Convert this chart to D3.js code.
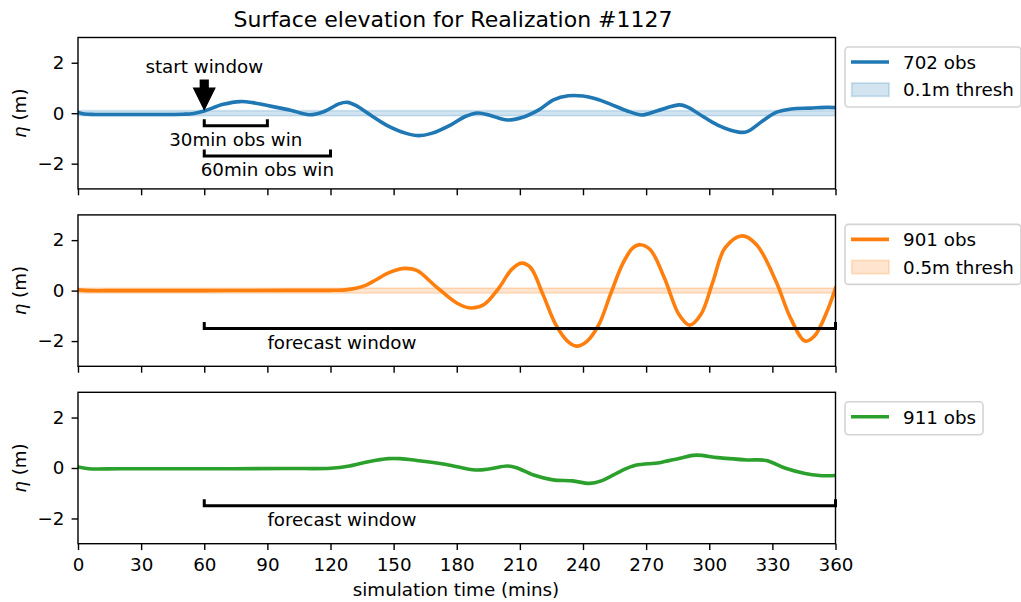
<!DOCTYPE html>
<html>
<head>
<meta charset="utf-8">
<script src="https://cdn.jsdelivr.net/npm/d3@7"></script>
<style>
  body { margin: 0; background: #fff; }
  svg text { font-family: "DejaVu Sans", sans-serif; fill: #000; }
</style>
</head>
<body>
<svg id="chart" width="1021" height="602"></svg>
<script>
// Gauge 702 surface elevation (m) vs simulation time (mins)
const times702 = [0, 3, 8, 20, 35, 50, 55, 60, 69, 77, 83, 92, 101, 110, 117, 124, 128, 132, 140, 147, 156, 162, 168, 177, 184, 190, 196, 204, 211, 219, 226, 233, 240, 246, 253, 261, 268, 275, 286, 290, 297, 304, 314, 318, 325, 332, 339, 348, 356, 360];
const eta702 = [0.03, -0.03, -0.05, -0.05, -0.05, -0.04, -0.01, 0.09, 0.35, 0.46, 0.42, 0.27, 0.12, -0.06, 0.07, 0.37, 0.43, 0.31, -0.13, -0.49, -0.8, -0.89, -0.8, -0.47, -0.13, 0.01, -0.09, -0.27, -0.17, 0.13, 0.53, 0.69, 0.68, 0.57, 0.36, 0.09, -0.07, 0.09, 0.33, 0.23, -0.13, -0.47, -0.75, -0.73, -0.33, 0.04, 0.17, 0.2, 0.23, 0.22];

// Gauge 901
const times901 = [0, 5, 20, 60, 100, 120, 127, 132, 137, 141.5, 146.5, 150.5, 155.3, 161, 170, 180, 186.5, 193, 200, 206, 210.7, 215, 221, 227, 232.6, 237, 242, 247.6, 253, 259, 263.7, 267.2, 272, 278.7, 285.6, 290.7, 296, 301.8, 307.5, 315.6, 322.5, 331.7, 338.6, 345.5, 350, 356, 360];
const eta901 = [0.03, 0.0, 0.0, 0.0, 0.01, 0.01, 0.03, 0.09, 0.22, 0.42, 0.66, 0.8, 0.88, 0.8, 0.17, -0.49, -0.69, -0.55, 0.1, 0.83, 1.09, 0.92, -0.16, -1.34, -2.0, -2.2, -2.0, -1.34, -0.16, 1.09, 1.69, 1.82, 1.62, 0.5, -0.95, -1.37, -0.95, 0.37, 1.69, 2.17, 1.82, 0.37, -1.08, -2.0, -1.8, -0.82, 0.1];

// Gauge 911
const times911 = [0, 5, 20, 60, 100, 120, 129, 138, 147.5, 153, 161, 175, 189, 196, 204, 208.4, 216.5, 225.7, 235, 243, 248.7, 258, 265, 276.4, 285.6, 293.7, 304, 318, 327, 336.3, 345.5, 352.4, 360];
const eta911 = [0.04, -0.03, -0.03, -0.03, -0.02, -0.01, 0.08, 0.25, 0.37, 0.37, 0.3, 0.14, -0.08, -0.03, 0.08, 0.01, -0.28, -0.47, -0.51, -0.61, -0.51, -0.12, 0.11, 0.21, 0.38, 0.51, 0.41, 0.32, 0.3, -0.01, -0.22, -0.3, -0.3];

const gaugeLabels = ["702 obs", "901 obs", "911 obs"];
const threshLabels = ["0.1m thresh", "0.5m thresh", null];
const bandHalfWidth = [0.1, 0.1, null];
const xTicks = [0, 30, 60, 90, 120, 150, 180, 210, 240, 270, 300, 330, 360];
const yTicks = [-2, 0, 2];
const colors = ["#1f77b4", "#ff7f0e", "#2ca02c"];

const series = [
  { t: times702, v: eta702 },
  { t: times901, v: eta901 },
  { t: times911, v: eta911 }
];

const svg = d3.select("#chart");
const FS = 18.3;
const panelTops = [37.5, 214.9, 392.3];
const panelH = 151.4;
const x = d3.scaleLinear().domain([0, 360]).range([78, 835.5]);

svg.append("text")
  .attr("x", 453).attr("y", 26.7)
  .attr("text-anchor", "middle")
  .style("font-size", "22px")
  .text("Surface elevation for Realization #1127");

svg.append("text")
  .attr("x", 456).attr("y", 596)
  .attr("text-anchor", "middle")
  .style("font-size", FS + "px")
  .text("simulation time (mins)");

function bracket(g, y, x0, x1, yv, tickH) {
  const py = y(yv);
  g.append("path")
    .attr("d", `M${x(x0)},${py - tickH}V${py}H${x(x1)}V${py - tickH}`)
    .attr("fill", "none").attr("stroke", "#000")
    .attr("stroke-width", 3).attr("stroke-linejoin", "miter");
}

series.forEach((s, i) => {
  const top = panelTops[i];
  const y = d3.scaleLinear().domain([-3, 3]).range([top + panelH, top]);
  const g = svg.append("g");

  g.append("clipPath").attr("id", "clip" + i)
    .append("rect").attr("x", x(0)).attr("y", top)
    .attr("width", x(360) - x(0)).attr("height", panelH);

  const plot = g.append("g").attr("clip-path", `url(#clip${i})`);

  if (bandHalfWidth[i] != null) {
    const band = d3.area()
      .x(d => x(d))
      .y0(y(-bandHalfWidth[i]))
      .y1(y(bandHalfWidth[i]));
    plot.append("path")
      .attr("d", band([0, 360]))
      .attr("fill", colors[i]).attr("fill-opacity", 0.2)
      .attr("stroke", colors[i]).attr("stroke-opacity", 0.2)
      .attr("stroke-width", 1.8);
  }

  const line = d3.line()
    .x((d, k) => x(s.t[k]))
    .y(d => y(d))
    .curve(d3.curveCatmullRom.alpha(0.5));
  plot.append("path")
    .attr("d", line(s.v))
    .attr("fill", "none")
    .attr("stroke", colors[i])
    .attr("stroke-width", 3.6)
    .attr("stroke-linejoin", "round")
    .attr("stroke-linecap", "square");

  // axes
  const yAxis = d3.axisLeft(y).tickValues(yTicks).tickSize(6.4).tickPadding(7.1)
    .tickFormat(d3.format("d"));
  const ya = g.append("g").attr("transform", `translate(${x(0)},0)`).call(yAxis);
  const xAxis = d3.axisBottom(x).tickValues(xTicks).tickSize(6.4).tickPadding(8.3)
    .tickFormat(i === 2 ? d3.format("d") : () => "");
  const xa = g.append("g").attr("transform", `translate(0,${top + panelH})`).call(xAxis);
  [ya, xa].forEach(a => {
    a.select(".domain").remove();
    a.selectAll(".tick line").attr("stroke", "#000").attr("stroke-width", 1.4);
    a.selectAll(".tick text").attr("fill", "#000")
      .style("font-size", FS + "px").style("font-family", "DejaVu Sans, sans-serif");
  });

  // frame
  g.append("rect")
    .attr("x", x(0)).attr("y", top)
    .attr("width", x(360) - x(0)).attr("height", panelH)
    .attr("fill", "none").attr("stroke", "#000").attr("stroke-width", 1.4);

  // y label
  const yl = g.append("text")
    .attr("transform", `translate(26,${top + panelH / 2}) rotate(-90)`)
    .attr("text-anchor", "middle")
    .style("font-size", FS + "px");
  yl.append("tspan").style("font-style", "italic").text("η");
  yl.append("tspan").text(" (m)");

  // annotations
  if (i === 0) {
    const tipX = x(60), tipY = y(0.09), tailY = y(1.34);
    const headLen = 23.4, headHalf = 11.6, shaftHalf = 4.6;
    g.append("polygon")
      .attr("points", [
        [tipX - shaftHalf, tailY], [tipX + shaftHalf, tailY],
        [tipX + shaftHalf, tipY - headLen], [tipX + headHalf, tipY - headLen],
        [tipX, tipY], [tipX - headHalf, tipY - headLen],
        [tipX - shaftHalf, tipY - headLen]
      ].map(p => p.join(",")).join(" "))
      .attr("fill", "#000");
    g.append("text").attr("x", x(60)).attr("y", y(1.6))
      .attr("text-anchor", "middle").style("font-size", FS + "px").text("start window");
    bracket(g, y, 60, 90, -0.5, 6.5);
    bracket(g, y, 60, 120, -1.7, 6.5);
    g.append("text").attr("x", x(75)).attr("y", y(-1.31))
      .attr("text-anchor", "middle").style("font-size", FS + "px").text("30min obs win");
    g.append("text").attr("x", x(90)).attr("y", y(-2.5))
      .attr("text-anchor", "middle").style("font-size", FS + "px").text("60min obs win");
  } else {
    bracket(g, y, 60, 360, -1.5, 6.5);
    g.append("text").attr("x", x(90)).attr("y", y(-2.3))
      .attr("text-anchor", "start").style("font-size", FS + "px").text("forecast window");
  }

  // legend
  const lg = svg.append("g");
  const lx = 845, ly = top + 9.5;
  const frame = lg.append("rect").attr("x", lx).attr("y", ly).attr("rx", 3.5)
    .attr("fill", "#fff").attr("fill-opacity", 0.8)
    .attr("stroke", "#d4d4d4").attr("stroke-width", 1.6);
  lg.append("line").attr("x1", 851).attr("x2", 889)
    .attr("y1", ly + 15).attr("y2", ly + 15)
    .attr("stroke", colors[i]).attr("stroke-width", 3.6);
  const texts = [];
  texts.push(lg.append("text").attr("x", 903).attr("y", ly + 22)
    .style("font-size", FS + "px").text(gaugeLabels[i]));
  let h = 33;
  if (threshLabels[i]) {
    lg.append("rect").attr("x", 851.7).attr("y", ly + 36)
      .attr("width", 37.3).attr("height", 13.3)
      .attr("fill", colors[i]).attr("fill-opacity", 0.2)
      .attr("stroke", colors[i]).attr("stroke-opacity", 0.2).attr("stroke-width", 1.8);
    texts.push(lg.append("text").attr("x", 903).attr("y", ly + 49.3)
      .style("font-size", FS + "px").text(threshLabels[i]));
    h = 60;
  }
  const maxW = d3.max(texts, t => t.node().getComputedTextLength());
  frame.attr("width", 903 + maxW + 7 - lx).attr("height", h);
});
</script>
</body>
</html>
